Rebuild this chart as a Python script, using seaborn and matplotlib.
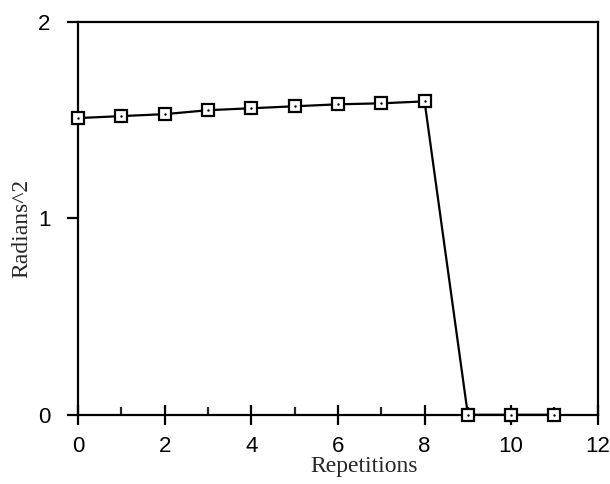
import numpy as np
import pandas as pd
import matplotlib
matplotlib.use("Agg")
import matplotlib.pyplot as plt
import seaborn as sns
from matplotlib.ticker import MultipleLocator

# ---- data ----
repetitions = [0, 1, 2, 3, 4, 5, 6, 7, 8, 9, 10, 11]
radians_sq = [1.51, 1.52, 1.53, 1.55, 1.56, 1.57, 1.58, 1.585, 1.595, 0.0, 0.0, 0.0]
x_ticks = [0, 2, 4, 6, 8, 10, 12]
y_ticks = [0, 1, 2]

df = pd.DataFrame({"Repetitions": repetitions, "Radians^2": radians_sq})

sns.set_style("white")
plt.rcParams["font.family"] = ["Liberation Sans", "DejaVu Sans"]

fig = plt.figure(figsize=(6.1, 4.84), dpi=100)
ax = fig.add_axes([0.128, 0.143, 0.852, 0.812])

sns.lineplot(data=df, x="Repetitions", y="Radians^2", ax=ax, color="black",
             linewidth=1.6, marker="s", markersize=8, markerfacecolor="white",
             markeredgecolor="black", markeredgewidth=1.6, clip_on=False, zorder=3)
# little dot in the middle of every square
sns.scatterplot(data=df, x="Repetitions", y="Radians^2", ax=ax, color="black",
                s=3, linewidth=0, clip_on=False, zorder=4, legend=False)

ax.set_xlim(0, 12)
ax.set_ylim(0, 2)
ax.set_xticks(x_ticks)
ax.xaxis.set_minor_locator(MultipleLocator(1))
ax.set_yticks(y_ticks)

for side in ["left", "right", "top", "bottom"]:
    ax.spines[side].set_visible(True)
    ax.spines[side].set_color("black")
    ax.spines[side].set_linewidth(1.6)

ax.tick_params(axis="x", which="both", bottom=True, top=False)
ax.tick_params(axis="y", which="both", left=True, right=False)
ax.tick_params(axis="x", which="major", direction="inout", length=14, width=1.6,
               labelsize=16, pad=8, colors="black")
ax.tick_params(axis="x", which="minor", direction="in", length=6, width=1.6)
ax.tick_params(axis="y", which="major", direction="out", length=8, width=1.6,
               labelsize=16, pad=12, colors="black")

ax.set_xlabel("Repetitions", family=["Liberation Serif", "DejaVu Serif"], fontsize=17)
ax.set_ylabel("Radians^2", family=["Liberation Serif", "DejaVu Serif"], fontsize=17)
ax.xaxis.set_label_coords(0.55, -0.105)
ax.yaxis.set_label_coords(-0.088, 0.475)

fig.savefig("out.png", dpi=100, facecolor="white")
